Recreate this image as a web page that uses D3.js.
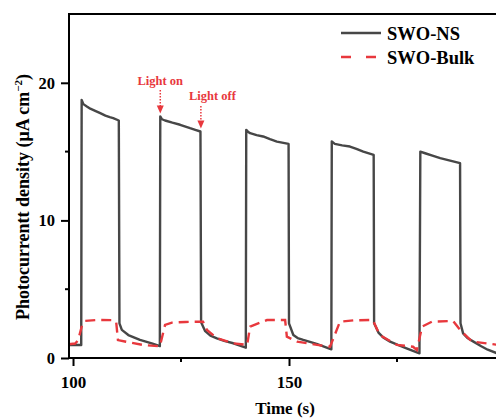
<!DOCTYPE html>
<html><head><meta charset="utf-8">
<script src="https://cdn.jsdelivr.net/npm/d3@7"></script>
<style>body{margin:0;background:#fff}svg{display:block}</style>
</head><body>
<svg id="c" width="496" height="419"></svg>
<script>
// ---- data ----
const nsT = [99.0,101.9, 102.0,102.4,103.2,104.0,105.0,106.3,107.5,108.5,109.3,110.6,
  110.75,111.3,112.8,115.5,118.6,120.1,
  120.2,120.6,121.3,123.0,124.8,127.1,128.3,129.5,
  129.65,130.6,131.8,133.3,135.0,137.1,140.0,
  140.1,140.5,141.0,142.5,144.0,145.6,147.2,149.9,
  150.0,151.0,152.0,153.3,156.4,159.8,
  159.9,160.6,162.3,164.1,165.6,167.2,169.6,
  169.7,170.7,171.8,173.4,175.2,177.2,180.2,
  180.4,181.5,183.2,185.0,187.3,189.6,
  189.7,190.3,191.3,192.7,194.5,196.0,198.5];
const nsV = [0.95,0.95, 18.76,18.45,18.28,18.12,17.98,17.8,17.62,17.5,17.43,17.26,
  2.52,2.04,1.67,1.31,1.02,0.87,
  17.55,17.35,17.26,17.1,16.95,16.7,16.58,16.46,
  2.6,1.95,1.62,1.43,1.25,1.07,0.75,
  16.58,16.45,16.34,16.2,16.1,15.9,15.73,15.56,
  2.52,1.67,1.45,1.31,1.02,0.63,
  15.73,15.56,15.45,15.37,15.2,15.0,14.76,
  2.52,1.85,1.5,1.19,0.95,0.7,0.34,
  15.0,14.88,14.7,14.52,14.35,14.16,
  2.52,1.79,1.45,1.19,0.85,0.6,0.3];
const bulkT = [99.0,100.5,101.2,102.1,102.8,105.6,109.3,110.0,110.4,112.0,116.2,120.1,
  121.3,122.9,126.0,130.1,131.0,133.3,137.0,140.3,
  141.0,144.9,149.1,149.5,151.9,156.5,159.5,
  161.8,165.0,169.4,171.0,175.0,178.7,179.6,
  180.8,183.1,188.0,189.6,192.4,198.5];
const bulkV = [1.0,1.05,1.3,2.4,2.7,2.76,2.75,2.6,1.3,1.2,0.95,0.85,
  2.4,2.57,2.62,2.64,2.04,1.45,1.07,0.95,
  2.28,2.76,2.76,1.55,1.19,0.95,0.82,
  2.64,2.74,2.76,1.67,0.95,0.82,0.58,
  2.28,2.64,2.69,2.04,1.19,0.95];
const seriesNames = ["SWO-NS","SWO-Bulk"];
const xMajor = [100,150];
const xMinor = [125,175];
const yMajor = [0,10,20];
const yMinor = [5,15];
const annotations = [{label:"Light on", t:120.2, v:17.55},{label:"Light off", t:129.6, v:16.46}];

// ---- chart ----
const svg = d3.select("#c");
const font = "'Liberation Serif','Times New Roman',serif";
const x = d3.scaleLinear().domain([99.07,200]).range([69,505]);
const y = d3.scaleLinear().domain([0,25]).range([358,14]);
const red = "#e8383d", dark = "#474747";

const line = d3.line().x(d=>x(d[0])).y(d=>y(d[1]));
const ns = nsT.map((t,i)=>[t,nsV[i]]);
const bulk = bulkT.map((t,i)=>[t,bulkV[i]]);

svg.append("path").datum(ns).attr("d",line).attr("fill","none")
  .attr("stroke",dark).attr("stroke-width",2.4).attr("stroke-linejoin","round");
svg.append("path").datum(bulk).attr("d",line).attr("fill","none")
  .attr("stroke",red).attr("stroke-width",2.4).attr("stroke-dasharray","10,6");

// axes
const xAxis = svg.append("g").attr("transform","translate(0,358)")
  .call(d3.axisBottom(x).tickValues(xMajor).tickSize(8).tickPadding(5).tickFormat(d3.format("d")));
const yAxis = svg.append("g").attr("transform","translate(69,0)")
  .call(d3.axisLeft(y).tickValues(yMajor).tickSize(8).tickPadding(6).tickFormat(d3.format("d")));
[xAxis,yAxis].forEach(a=>{
  a.select(".domain").remove();
  a.selectAll(".tick line").attr("stroke","#000").attr("stroke-width",2);
  a.selectAll("text").attr("font-family",font).attr("font-weight","bold").attr("fill","#000");
});
xAxis.selectAll("text").attr("font-size",17).attr("dy","1.0em");
yAxis.selectAll("text").attr("font-size",16.5);
svg.append("g").selectAll("line").data(xMinor).join("line")
  .attr("x1",d=>x(d)).attr("x2",d=>x(d)).attr("y1",358).attr("y2",362).attr("stroke","#000").attr("stroke-width",2);
svg.append("g").selectAll("line").data(yMinor).join("line")
  .attr("y1",d=>y(d)).attr("y2",d=>y(d)).attr("x1",69).attr("x2",65).attr("stroke","#000").attr("stroke-width",2);

// frame lines
svg.append("line").attr("x1",69).attr("x2",496).attr("y1",358).attr("y2",358).attr("stroke","#000").attr("stroke-width",2);
svg.append("line").attr("x1",69).attr("x2",69).attr("y1",13).attr("y2",359).attr("stroke","#000").attr("stroke-width",2);
svg.append("line").attr("x1",68).attr("x2",496).attr("y1",14).attr("y2",14).attr("stroke","#000").attr("stroke-width",2);

// axis titles
svg.append("text").attr("x",285).attr("y",414).attr("text-anchor","middle")
  .attr("font-family",font).attr("font-weight","bold").attr("font-size",17).text("Time (s)");
const yl = svg.append("text").attr("transform","translate(29,197) rotate(-90)").attr("text-anchor","middle")
  .attr("font-family",font).attr("font-weight","bold").attr("font-size",18);
yl.append("tspan").text("Photocurrentt density (μA cm");
yl.append("tspan").attr("font-size",11).attr("dy",-7).text("−2");
yl.append("tspan").attr("dy",7).text(")");

// legend
const lg = svg.append("g");
lg.append("line").attr("x1",341).attr("x2",381).attr("y1",33).attr("y2",33).attr("stroke",dark).attr("stroke-width",2.4);
lg.append("line").attr("x1",341).attr("x2",381).attr("y1",57).attr("y2",57).attr("stroke",red).attr("stroke-width",2.4).attr("stroke-dasharray","10,15");
lg.selectAll("text").data(seriesNames).join("text").attr("x",387).attr("y",(d,i)=>40+i*24)
  .attr("font-family",font).attr("font-weight","bold").attr("font-size",18.5).text(d=>d);

// annotations
const ann = svg.append("g");
const annDefs = [{tx:160, ty:85, anchor:"middle", top:90, len:16}, {tx:189, ty:100, anchor:"start", top:106, len:16}];
annotations.forEach((a,i)=>{
  const d = annDefs[i], ax = x(a.t);
  ann.append("text").attr("x",d.anchor==="middle"?ax:d.tx).attr("y",d.ty).attr("text-anchor",d.anchor)
    .attr("font-family",font).attr("font-weight","bold").attr("font-size",12.5).attr("fill",red).text(a.label);
  ann.append("line").attr("x1",ax).attr("x2",ax).attr("y1",d.top).attr("y2",d.top+d.len)
    .attr("stroke",red).attr("stroke-width",1.5).attr("stroke-dasharray","1.5,1.5");
  const tip = y(a.v)-3;
  ann.append("path").attr("d",`M${ax-3.5},${tip-8}L${ax+3.5},${tip-8}L${ax},${tip}Z`).attr("fill",red);
});
</script>
</body></html>
